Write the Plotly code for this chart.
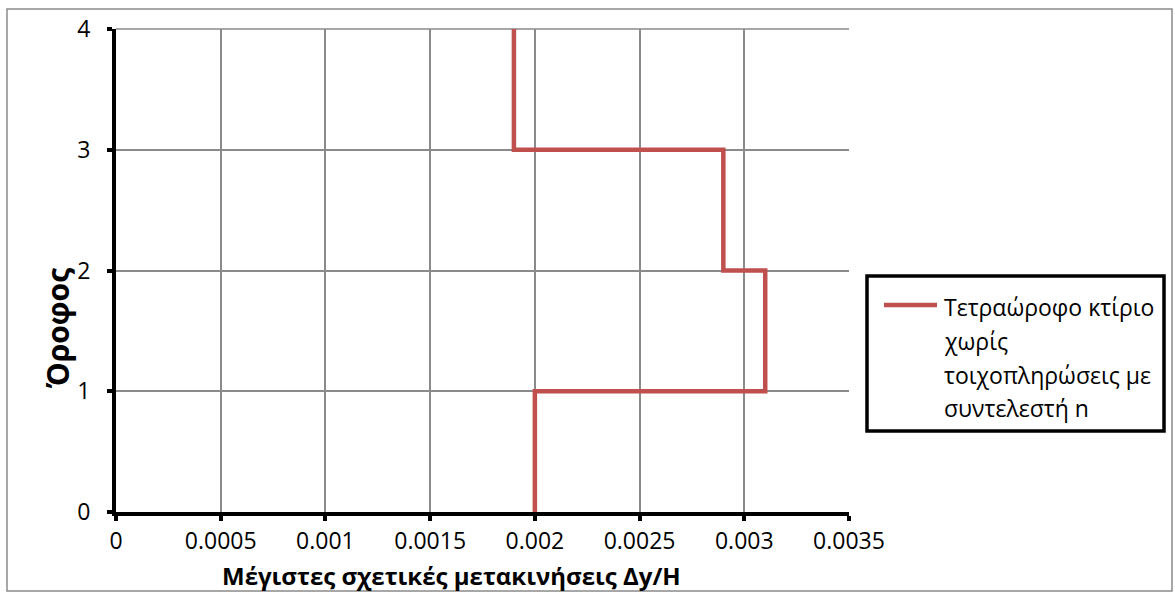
import plotly.graph_objects as go

# Data: step profile of max interstorey drift per floor
drift_x = [0.002, 0.002, 0.0031, 0.0031, 0.0029, 0.0029, 0.0019, 0.0019]
floor_y = [0, 1, 1, 2, 2, 3, 3, 4]
series_lines = ["Τετραώροφο κτίριο", "χωρίς", "τοιχοπληρώσεις με", "συντελεστή n"]
x_ticks = [0, 0.0005, 0.001, 0.0015, 0.002, 0.0025, 0.003, 0.0035]
x_tick_text = ["0", "0.0005", "0.001", "0.0015", "0.002", "0.0025", "0.003", "0.0035"]
y_ticks = [0, 1, 2, 3, 4]
x_title = "Μέγιστες σχετικές μετακινήσεις Δy/H"
y_title = "Όροφος"

FONT = "Open Sans"
LINE_COLOR = "#C0504D"
GRID = "#8a8a8a"

# pixel -> paper helpers (plot area: x 116..849, y 29..512)
L, R, T, B = 116, 849, 29, 512
def px(x):
    return (x - L) / (R - L)
def py(y):
    return (B - y) / (B - T)

fig = go.Figure()
fig.add_trace(go.Scatter(
    x=drift_x, y=floor_y, mode="lines", name=" ".join(series_lines),
    line=dict(color=LINE_COLOR, width=4.5),
    showlegend=False,
))

annotations = [
    dict(text=f"<b>{x_title}</b>", xref="paper", yref="paper",
         x=px(451), y=py(575), xanchor="center", yanchor="middle",
         showarrow=False, font=dict(family=FONT, size=24, color="black")),
    dict(text=f"<b>{y_title}</b>", xref="paper", yref="paper",
         x=px(57), y=py(328), xanchor="center", yanchor="middle",
         textangle=-90, showarrow=False,
         font=dict(family=FONT, size=30, color="black")),
]
legend_y = [307, 341, 375, 408]
for txt, yy in zip(series_lines, legend_y):
    annotations.append(dict(
        text=txt, xref="paper", yref="paper", x=px(942), y=py(yy),
        xanchor="left", yanchor="middle", showarrow=False,
        font=dict(family=FONT, size=23, color="black")))

shapes = [
    dict(type="line", xref="paper", yref="paper", x0=0, x1=1, y0=1, y1=1,
         line=dict(color=GRID, width=1.5), layer="below"),
    # outer chart border
    dict(type="rect", xref="paper", yref="paper",
         x0=px(7), x1=px(1172), y0=py(591), y1=py(9),
         line=dict(color=GRID, width=1.5), layer="below"),
    # legend box
    dict(type="rect", xref="paper", yref="paper",
         x0=px(867), x1=px(1164), y0=py(431), y1=py(276),
         line=dict(color="black", width=3.5), fillcolor="white"),
    # legend sample line
    dict(type="line", xref="paper", yref="paper",
         x0=px(884), x1=px(937), y0=py(305), y1=py(305),
         line=dict(color=LINE_COLOR, width=4.5)),
]

fig.update_layout(
    width=1175, height=592,
    margin=dict(l=L, r=1175 - R, t=T, b=592 - B),
    paper_bgcolor="white", plot_bgcolor="white",
    font=dict(family=FONT, size=23, color="black"),
    showlegend=False,
    xaxis=dict(
        range=[0, 0.0035], tickvals=x_ticks, ticktext=x_tick_text,
        showgrid=True, gridcolor=GRID, gridwidth=1.5,
        showline=True, linecolor="black", linewidth=4,
        ticks="outside", ticklen=5, tickwidth=4, tickcolor="black",
        zeroline=False, ticklabelstandoff=0,
        tickfont=dict(family=FONT, size=23, color="black"),
    ),
    yaxis=dict(
        range=[0, 4], tickvals=y_ticks,
        showgrid=True, gridcolor=GRID, gridwidth=1.5,
        showline=True, linecolor="black", linewidth=4,
        ticks="outside", ticklen=5, tickwidth=4, tickcolor="black",
        zeroline=False, ticklabelstandoff=12,
        tickfont=dict(family=FONT, size=23, color="black"),
    ),
    annotations=annotations,
    shapes=shapes,
)

fig.write_html("out.html")
